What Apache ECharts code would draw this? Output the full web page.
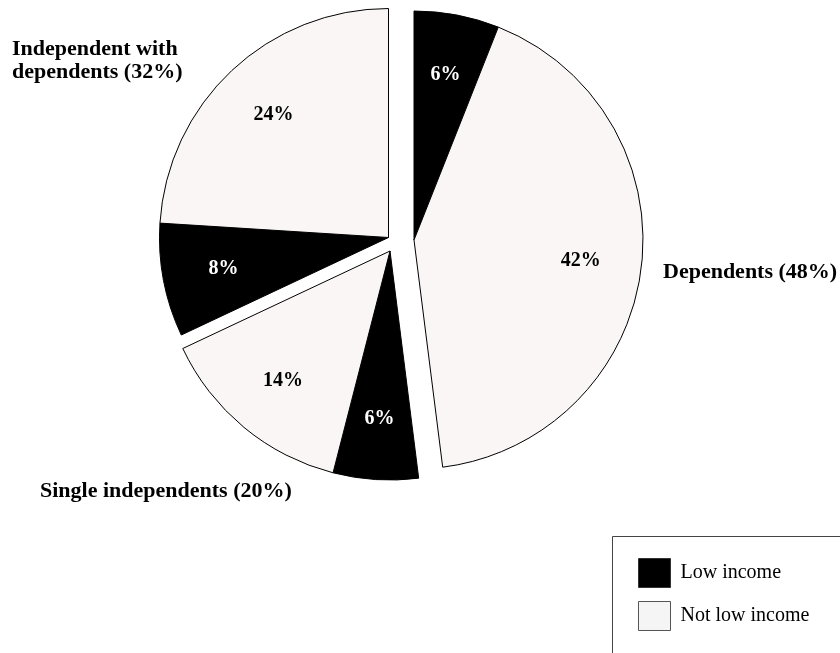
<!DOCTYPE html>
<html>
<head>
<meta charset="utf-8">
<title>Income status by dependency group</title>
<script src="https://cdn.jsdelivr.net/npm/echarts@6/dist/echarts.min.js"></script>
<style>
  html, body { margin: 0; padding: 0; background: #fff; }
  #chart { width: 840px; height: 653px; }
</style>
</head>
<body>
<div id="chart"></div>
<script>
// Groups, in clockwise order from 12 o'clock
const groupNames = ['Dependents', 'Single independents', 'Independent with\ndependents'];
// Share of all students (%) in each group, split by income class
const lowIncome = [6, 6, 8];
const notLowIncome = [42, 14, 24];
const incomeClasses = ['Low income', 'Not low income'];

const FONT = '"Liberation Serif", "Times New Roman", serif';
const classColors = ['#000000', '#faf6f5'];
const R = 229;
// each group is pulled slightly away from the centre
const groupCenters = [[414, 240], [390, 251], [388.5, 237.5]];
const groupLabelPos = [
  { x: 663, y: 272, v: 'middle' },
  { x: 40, y: 491, v: 'middle' },
  { x: 12, y: 38, v: 'top' }
];

// flat list of slices: [group][class]
const slices = [];
groupNames.forEach((g, gi) => {
  [lowIncome[gi], notLowIncome[gi]].forEach((v, ci) => {
    slices.push({ group: gi, cls: ci, value: v });
  });
});

function groupData(gi, forLabels) {
  return slices.map(s => {
    const own = s.group === gi;
    const item = { name: incomeClasses[s.cls], value: s.value };
    if (forLabels) {
      item.itemStyle = { color: 'rgba(0,0,0,0)', borderWidth: 0 };
      item.label = {
        show: own,
        color: s.cls === 0 ? '#ffffff' : '#000000'
      };
    } else if (own) {
      item.itemStyle = { color: classColors[s.cls], borderColor: '#000', borderWidth: 1 };
    } else {
      item.itemStyle = { color: 'rgba(0,0,0,0)', borderWidth: 0 };
    }
    return item;
  });
}

const series = [];
groupNames.forEach((g, gi) => {
  series.push({
    type: 'pie',
    center: groupCenters[gi],
    radius: [0, R],
    startAngle: 90,
    clockwise: true,
    avoidLabelOverlap: false,
    label: { show: false },
    labelLine: { show: false },
    emphasis: { disabled: true },
    data: groupData(gi, false)
  });
});
// value labels, placed on a ring part-way out from each group's centre
groupNames.forEach((g, gi) => {
  series.push({
    type: 'pie',
    center: groupCenters[gi],
    radius: [100, 230],
    startAngle: 90,
    clockwise: true,
    silent: true,
    legendHoverLink: false,
    avoidLabelOverlap: false,
    label: {
      position: 'inside',
      formatter: p => p.value + '%',
      fontFamily: FONT,
      fontWeight: 'bold',
      fontSize: 20
    },
    labelLine: { show: false },
    emphasis: { disabled: true },
    data: groupData(gi, true)
  });
});

const graphic = groupNames.map((g, gi) => {
  const total = lowIncome[gi] + notLowIncome[gi];
  const p = groupLabelPos[gi];
  return {
    type: 'text',
    x: p.x,
    y: p.y,
    style: {
      text: g + ' (' + total + '%)',
      font: 'bold 22px ' + FONT,
      fill: '#000',
      textVerticalAlign: p.v,
      verticalAlign: p.v,
      lineHeight: 23
    }
  };
});
// frame around the key; it runs off the right and bottom edges
graphic.push({
  type: 'rect',
  shape: { x: 612.5, y: 536.5, width: 260, height: 160 },
  style: { fill: 'none', stroke: '#444', lineWidth: 1 },
  silent: true
});

const legendSwatches = [
  { color: '#000000', borderColor: '#333', borderWidth: 1 },
  { color: '#f5f5f5', borderColor: '#555', borderWidth: 1 }
];

const chart = echarts.init(document.getElementById('chart'), null, { renderer: 'canvas' });
chart.setOption({
  animation: false,
  backgroundColor: '#ffffff',
  legend: {
    data: incomeClasses.map((n, i) => ({ name: n, itemStyle: legendSwatches[i] })),
    orient: 'vertical',
    left: 638,
    top: 558,
    padding: 0,
    itemWidth: 32,
    itemHeight: 29,
    itemGap: 13,
    icon: 'rect',
    selectedMode: false,
    textStyle: { fontFamily: FONT, fontSize: 20, color: '#000', padding: [0, 0, 0, 5] }
  },
  series: series,
  graphic: graphic
});
</script>
</body>
</html>
